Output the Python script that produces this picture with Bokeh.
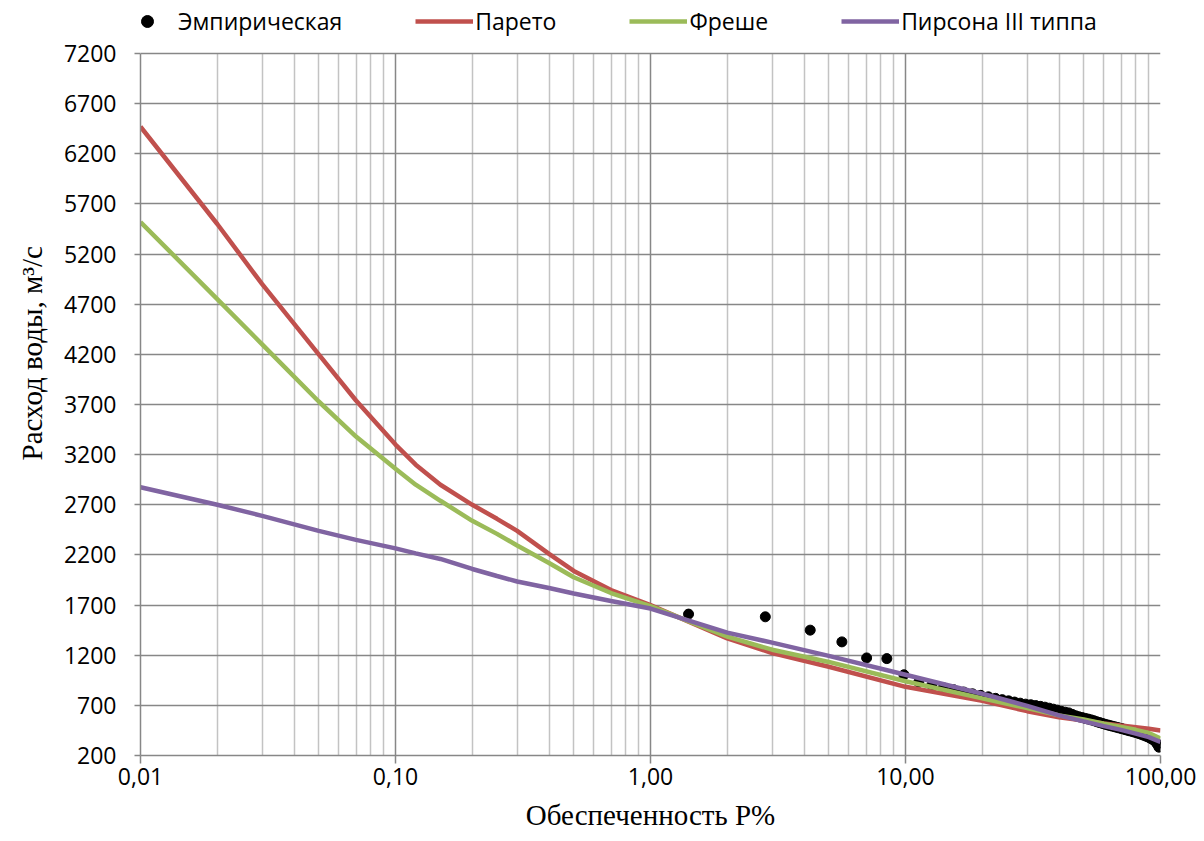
from bokeh.plotting import figure
from bokeh.models import (Range1d, FixedTicker, Legend, LegendItem, Title,
                          CustomJSTickFormatter)
from bokeh.embed import file_html
from bokeh.resources import INLINE

# ---------------- data ----------------
p_curve = [0.01, 0.02, 0.03, 0.05, 0.07, 0.1, 0.12, 0.15, 0.2, 0.25, 0.3,
           0.4, 0.5, 0.7, 1, 2, 3, 5, 10, 20, 30, 40, 50, 60, 70, 80, 90, 100]
pareto = [6470, 5500, 4900, 4200, 3740, 3300, 3100, 2900, 2700, 2560, 2440,
          2210, 2040, 1850, 1700, 1368, 1222, 1085, 885, 745, 642, 580, 548,
          520, 500, 483, 466, 450]
freshe = [5520, 4750, 4300, 3730, 3380, 3060, 2900, 2740, 2540, 2410, 2294,
          2120, 1977, 1820, 1690, 1385, 1255, 1133, 940, 770, 673, 600, 560,
          516, 485, 456, 425, 370]
pearson = [2875, 2700, 2590, 2440, 2350, 2265, 2215, 2160, 2060, 1990, 1935,
           1870, 1815, 1740, 1665, 1425, 1325, 1193, 1005, 816, 695, 600, 540,
           493, 455, 418, 383, 335]

emp_p = [1.41, 2.82, 4.23, 5.63, 7.04, 8.45, 9.86, 11.27, 12.68, 14.08,
         15.49, 16.90, 18.31, 19.72, 21.13, 22.54, 23.94, 25.35, 26.76, 28.17,
         29.58, 30.99, 32.39, 33.80, 35.21, 36.62, 38.03, 39.44, 40.85, 42.25,
         43.66, 45.07, 46.48, 47.89, 49.30, 50.70, 52.11, 53.52, 54.93, 56.34,
         57.75, 59.15, 60.56, 61.97, 63.38, 64.79, 66.20, 67.61, 69.01, 70.42,
         71.83, 73.24, 74.65, 76.06, 77.46, 78.87, 80.28, 81.69, 83.10, 84.51,
         85.92, 87.32, 88.73, 90.14, 91.55, 92.96, 94.37, 95.77, 97.18, 98.59]
emp_q = [1610, 1583, 1450, 1333, 1173, 1166, 1005, 930, 900, 875,
         855, 833, 815, 800, 785, 770, 757, 745, 733, 722,
         712, 706, 698, 690, 682, 672, 662, 652, 640, 632,
         625, 610, 596, 586, 578, 570, 563, 555, 546, 536,
         528, 520, 512, 505, 498, 492, 486, 480, 474, 468,
         462, 456, 450, 445, 440, 434, 428, 422, 416, 409,
         402, 395, 388, 380, 371, 362, 350, 335, 312, 283]

x_ticks = [0.01, 0.1, 1, 10, 100]
y_ticks = [200, 700, 1200, 1700, 2200, 2700, 3200, 3700, 4200, 4700, 5200,
           5700, 6200, 6700, 7200]

series_names = ["Эмпирическая", "Парето", "Фреше", "Пирсона III типпа"]
y_title = "Расход воды, м³/с"
x_title = "Обеспеченность P%"

# ---------------- layout numbers ----------------
H, BOTTOM, TOP_GAP = 841, 86, 53
frame_h = H - BOTTOM
y_lo, y_hi = y_ticks[0], y_ticks[-1]
y_top = y_lo + frame_h * (y_hi - y_lo) / (frame_h - TOP_GAP)

p = figure(width=1200, height=H, x_axis_type="log",
           x_range=Range1d(x_ticks[0], x_ticks[-1]),
           y_range=Range1d(y_lo, y_top),
           output_backend="svg", toolbar_location=None,
           min_border_left=138, min_border_right=40,
           min_border_top=0, min_border_bottom=BOTTOM)
p.outline_line_color = None
p.background_fill_color = "white"
p.border_fill_color = "white"

minor = [k * 10.0 ** e for e in range(-2, 2) for k in range(2, 10)]
p.xaxis.ticker = FixedTicker(ticks=x_ticks, minor_ticks=minor)
p.xaxis.formatter = CustomJSTickFormatter(
    code="return tick.toFixed(2).replace('.', ',');")
p.yaxis.ticker = FixedTicker(ticks=y_ticks)
p.yaxis.bounds = (y_lo, y_hi)

grid_major = "#878787"
grid_minor = "#c3c3c3"
p.ygrid.grid_line_color = grid_major
p.ygrid.grid_line_width = 1.5

use_segments = False
try:
    p.xgrid.cross_bounds = (y_lo, y_hi)
    p.xgrid.grid_line_color = grid_major
    p.xgrid.grid_line_width = 1.5
    p.xgrid.minor_grid_line_color = grid_minor
    p.xgrid.minor_grid_line_width = 1.5
except Exception:
    use_segments = True

if use_segments:
    p.xgrid.visible = False
    p.segment(x0=minor, y0=[y_lo] * len(minor), x1=minor,
              y1=[y_hi] * len(minor), color=grid_minor, line_width=1.5)
    p.segment(x0=x_ticks, y0=[y_lo] * len(x_ticks), x1=x_ticks,
              y1=[y_hi] * len(x_ticks), color=grid_major, line_width=1.5)

for ax in (p.xaxis[0], p.yaxis[0]):
    ax.axis_line_color = grid_major
    ax.axis_line_width = 1.5
    ax.major_tick_line_color = grid_major
    ax.major_tick_line_width = 1.5
    ax.major_tick_in = 0
    ax.minor_tick_line_color = None
    ax.major_label_text_font = "Open Sans"
    ax.major_label_text_font_size = "23px"
    ax.major_label_text_color = "black"
p.xaxis.major_tick_out = 8
p.xaxis.major_label_standoff = 4
p.yaxis.major_tick_out = 6
p.yaxis.major_label_standoff = 18

# ---------------- series ----------------
r_emp = p.scatter(emp_p, emp_q, size=10, color="black")
r_par = p.line(p_curve, pareto, line_width=4.5, color="#C0504D")
r_fre = p.line(p_curve, freshe, line_width=4.5, color="#9BBB59")
r_pea = p.line(p_curve, pearson, line_width=4.5, color="#8064A2")

# ---------------- legend ----------------
items = [LegendItem(label=n, renderers=[r])
         for n, r in zip(series_names, [r_emp, r_par, r_fre, r_pea])]
lg = Legend(items=items, location=(-22, frame_h - 37),
            orientation="horizontal",
            glyph_width=58, glyph_height=30, label_height=30,
            label_standoff=2, padding=0, margin=0, spacing=73,
            border_line_color=None, background_fill_alpha=0,
            label_text_font="Open Sans", label_text_font_size="23px",
            label_text_color="black")
p.add_layout(lg, "center")

# ---------------- titles ----------------
p.add_layout(Title(text=x_title, align="center", standoff=18,
                   text_font="Liberation Serif", text_font_size="29px",
                   text_font_style="normal", text_color="black"), "below")
p.add_layout(Title(text=y_title, align="left", offset=295, standoff=26,
                   text_font="Liberation Serif", text_font_size="29px",
                   text_font_style="normal", text_color="black"), "left")

open("out.html", "w").write(file_html(p, INLINE))
